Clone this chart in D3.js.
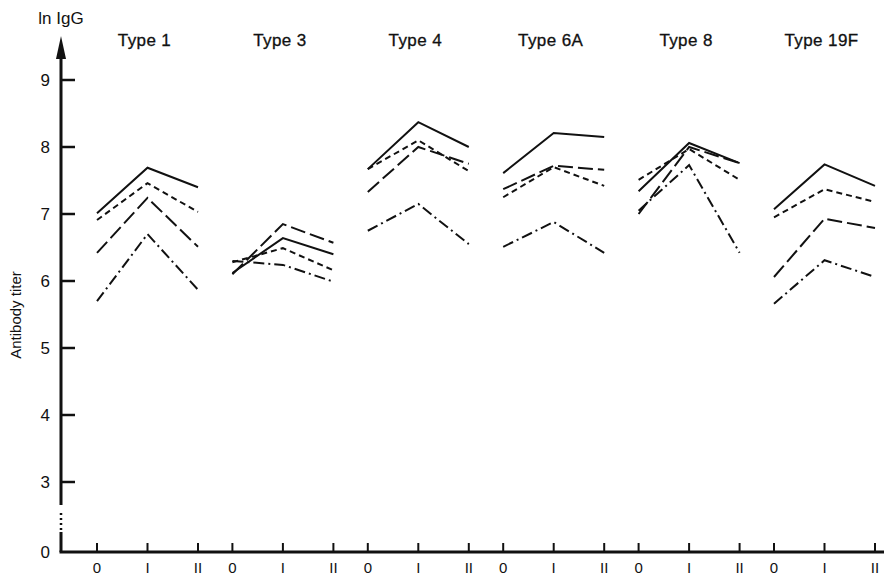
<!DOCTYPE html>
<html>
<head>
<meta charset="utf-8">
<script src="https://cdn.jsdelivr.net/npm/d3@7"></script>
<style>
  body { margin: 0; background: #fff; }
  text { font-family: "Liberation Sans", Arial, sans-serif; fill: #111; }
</style>
</head>
<body>
<div id="chart"></div>
<script>
// panels (pneumococcal types) and the three sampling times
const panels = ["Type 1", "Type 3", "Type 4", "Type 6A", "Type 8", "Type 19F"];
const times = ["0", "I", "II"];
const yTicks = [0, 3, 4, 5, 6, 7, 8, 9];

// one array per line style, one triple (0, I, II) per panel
const solidVals = [[7.01, 7.69, 7.40], [6.12, 6.64, 6.40], [7.67, 8.37, 8.00], [7.61, 8.21, 8.15], [7.34, 8.06, 7.76], [7.07, 7.74, 7.42]];
const shortDashVals = [[6.91, 7.46, 7.03], [6.28, 6.49, 6.16], [7.67, 8.10, 7.64], [7.25, 7.70, 7.42], [7.51, 7.97, 7.51], [6.95, 7.37, 7.18]];
const longDashVals = [[6.42, 7.24, 6.51], [6.10, 6.85, 6.57], [7.33, 8.00, 7.75], [7.37, 7.72, 7.66], [7.00, 8.00, 7.76], [6.06, 6.93, 6.79]];
const dashDotVals = [[5.70, 6.70, 5.87], [6.30, 6.24, 5.99], [6.75, 7.15, 6.55], [6.51, 6.88, 6.42], [7.05, 7.73, 6.42], [5.66, 6.31, 6.06]];

const width = 884, height = 575;
const svg = d3.select("#chart").append("svg")
  .attr("width", width)
  .attr("height", height);

// y axis has a break between 0 and 3
const y = d3.scaleLinear().domain([0, 3, 9]).range([552, 482, 80]);
const xPanel = d3.scaleLinear().domain([0, panels.length - 1]).range([97, 774]);
const xTime = d3.scaleLinear().domain([0, 2]).range([0, 101]);
const axisX = 61;

const series = [
  { vals: solidVals, dash: null },
  { vals: shortDashVals, dash: "6,4" },
  { vals: longDashVals, dash: "15,5" },
  { vals: dashDotVals, dash: "11,4,2,4" }
];

const line = d3.line()
  .x(d => d.x)
  .y(d => y(d.v));

series.forEach(s => {
  s.vals.forEach((triple, p) => {
    const pts = triple.map((v, t) => ({ x: xPanel(p) + xTime(t), v: v }));
    svg.append("path")
      .attr("d", line(pts))
      .attr("fill", "none")
      .attr("stroke", "#111")
      .attr("stroke-width", 2)
      .attr("stroke-dasharray", s.dash);
  });
});

// y axis line with break and arrow
svg.append("line").attr("x1", axisX).attr("x2", axisX).attr("y1", 552).attr("y2", 532)
  .attr("stroke", "#111").attr("stroke-width", 3);
svg.append("line").attr("x1", axisX).attr("x2", axisX).attr("y1", 530).attr("y2", 510)
  .attr("stroke", "#111").attr("stroke-width", 2.5).attr("stroke-dasharray", "2,3");
svg.append("line").attr("x1", axisX).attr("x2", axisX).attr("y1", 505).attr("y2", 52)
  .attr("stroke", "#111").attr("stroke-width", 3);
svg.append("path")
  .attr("d", `M${axisX},36 L${axisX - 5},59 L${axisX + 5},59 Z`)
  .attr("fill", "#111");

// y ticks
svg.selectAll(".ytick").data(yTicks.filter(d => d > 0)).enter().append("line")
  .attr("x1", axisX).attr("x2", axisX + 14)
  .attr("y1", d => y(d)).attr("y2", d => y(d))
  .attr("stroke", "#111").attr("stroke-width", 2.5);
svg.selectAll(".ylab").data(yTicks).enter().append("text")
  .attr("x", 50).attr("y", d => y(d) + 6)
  .attr("text-anchor", "end")
  .attr("font-size", 17)
  .text(d => d);

// x axis
svg.append("line").attr("x1", axisX - 1.5).attr("x2", width).attr("y1", 552).attr("y2", 552)
  .attr("stroke", "#111").attr("stroke-width", 3);
panels.forEach((name, p) => {
  times.forEach((t, i) => {
    const xx = xPanel(p) + xTime(i);
    svg.append("line").attr("x1", xx).attr("x2", xx).attr("y1", 552).attr("y2", 543)
      .attr("stroke", "#111").attr("stroke-width", 2);
    svg.append("text").attr("x", xx).attr("y", 573)
      .attr("text-anchor", "middle").attr("font-size", 15)
      .text(t);
  });
  svg.append("text")
    .attr("x", xPanel(p) + xTime(1) - 3)
    .attr("y", 46)
    .attr("text-anchor", "middle")
    .attr("font-size", 17)
    .attr("letter-spacing", 0.4)
    .attr("stroke", "#111").attr("stroke-width", 0.3)
    .text(name);
});

// axis titles
svg.append("text").attr("x", 61).attr("y", 24)
  .attr("text-anchor", "middle").attr("font-size", 17)
  .text("ln IgG");
svg.append("text")
  .attr("transform", "translate(21,315) rotate(-90)")
  .attr("text-anchor", "middle").attr("font-size", 15)
  .text("Antibody titer");
</script>
</body>
</html>
